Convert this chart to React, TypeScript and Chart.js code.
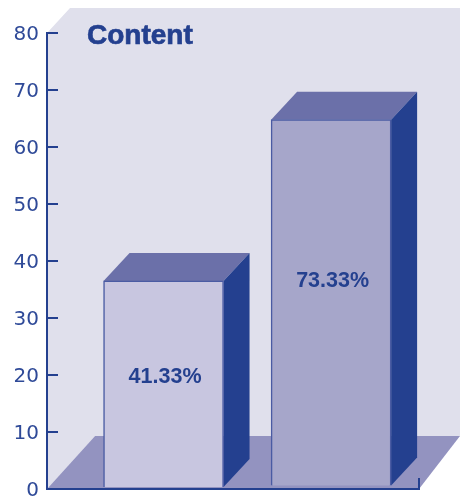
import React, { useEffect, useRef } from "react";
import { Chart, registerables } from "chart.js";

Chart.register(...registerables);

const chartTitle = "Content";
const barPositions = [1, 2];
const barBases = [0.35, 0.6];
const barTops = [36.5, 64.8];
const barLabels = ["41.33%", "73.33%"];
const labelLevels = [19.6, 36.4];
const barFills = ["#c8c6e0", "#a6a6ca"];
const yTicks = [0, 10, 20, 30, 40, 50, 60, 70, 80];

const NAVY = "#24408f";
const WALL = "#e0e0ec";
const FLOOR = "#9393c0";
const TOP_FACE = "#6b70a9";
const EDGE = "#4a5ba3";
const DEPTH_X = 26;
const DEPTH_Y = 28;

function poly(ctx: CanvasRenderingContext2D, pts: number[][], fill: string) {
  ctx.beginPath();
  pts.forEach(([x, y], i) => (i ? ctx.lineTo(x, y) : ctx.moveTo(x, y)));
  ctx.closePath();
  ctx.fillStyle = fill;
  ctx.fill();
}

const scene = {
  id: "scene",
  beforeDraw(chart: any) {
    const { ctx, chartArea: a, width } = chart;
    ctx.save();
    poly(ctx, [[a.left, a.top], [a.left + 23, a.top - 25], [width, a.top - 25], [width, a.bottom - 53], [a.left + 48, a.bottom - 53], [a.left, a.bottom]], WALL);
    poly(ctx, [[a.left, a.bottom], [a.left + 48, a.bottom - 53], [width, a.bottom - 53], [a.right, a.bottom]], FLOOR);
    ctx.restore();
  },
  beforeDatasetsDraw(chart: any) {
    const { ctx } = chart;
    ctx.save();
    chart.getDatasetMeta(0).data.forEach((bar: any) => {
      const l = bar.x - bar.width / 2;
      const r = bar.x + bar.width / 2;
      poly(ctx, [[l, bar.y], [l + DEPTH_X, bar.y - DEPTH_Y], [r + DEPTH_X, bar.y - DEPTH_Y], [r, bar.y]], TOP_FACE);
      poly(ctx, [[r, bar.y], [r + DEPTH_X, bar.y - DEPTH_Y], [r + DEPTH_X, bar.base - DEPTH_Y], [r, bar.base]], NAVY);
    });
    ctx.restore();
  },
  afterDatasetsDraw(chart: any) {
    const { ctx, scales } = chart;
    ctx.save();
    ctx.fillStyle = NAVY;
    ctx.strokeStyle = NAVY;
    ctx.textBaseline = "middle";
    ctx.textAlign = "center";
    ctx.font = "bold 21.5px 'Liberation Sans'";
    chart.getDatasetMeta(0).data.forEach((bar: any, i: number) => {
      ctx.fillText(barLabels[i], bar.x + 1.5, scales.y.getPixelForValue(labelLevels[i]));
    });
    ctx.textAlign = "left";
    ctx.font = "bold 28px 'Liberation Sans'";
    ctx.lineWidth = 0.7;
    ctx.fillText(chartTitle, 87, 36);
    ctx.strokeText(chartTitle, 87, 36);
    ctx.restore();
  },
};

export default function App() {
  const ref = useRef<HTMLCanvasElement>(null);
  useEffect(() => {
    const chart = new Chart(ref.current!, {
      type: "bar",
      data: {
        datasets: [
          {
            data: barPositions.map((x, i) => ({ x, y: [barBases[i], barTops[i]] })),
            backgroundColor: barFills,
            borderColor: EDGE,
            borderWidth: 1.5,
            barThickness: 120,
          },
        ],
      } as any,
      options: {
        responsive: false,
        animation: false,
        layout: { padding: { left: 0, top: 33, right: 41, bottom: 8 } },
        plugins: { legend: { display: false }, tooltip: { enabled: false }, title: { display: false } },
        scales: {
          x: {
            type: "linear",
            offset: false,
            min: 0.3045,
            max: 2.5245,
            afterBuildTicks: (s: any) => {
              s.ticks = [{ value: s.min }, { value: s.max }];
            },
            afterFit: (s: any) => {
              s.height = 0;
              s.paddingLeft = s.paddingRight = 0;
            },
            ticks: { display: false },
            border: { color: NAVY, width: 2 },
            grid: { drawOnChartArea: false, offset: false, tickLength: -11, color: NAVY, lineWidth: 2 },
          },
          y: {
            min: 0,
            max: 80,
            afterBuildTicks: (s: any) => {
              s.ticks = yTicks.map((value) => ({ value }));
            },
            afterFit: (s: any) => {
              s.width = 47;
              s.paddingTop = s.paddingBottom = 0;
            },
            ticks: { color: "#2f4a98", font: { family: "'DejaVu Sans'", size: 20 }, padding: 19, labelOffset: 2 },
            border: { color: NAVY, width: 2 },
            grid: { drawOnChartArea: false, tickLength: -11, color: NAVY, lineWidth: 2 },
          },
        },
      },
      plugins: [scene],
    } as any);
    return () => chart.destroy();
  }, []);
  return (
    <canvas
      ref={ref}
      width={460}
      height={497}
      style={{ position: "absolute", left: 0, top: 0, display: "block" }}
    />
  );
}
